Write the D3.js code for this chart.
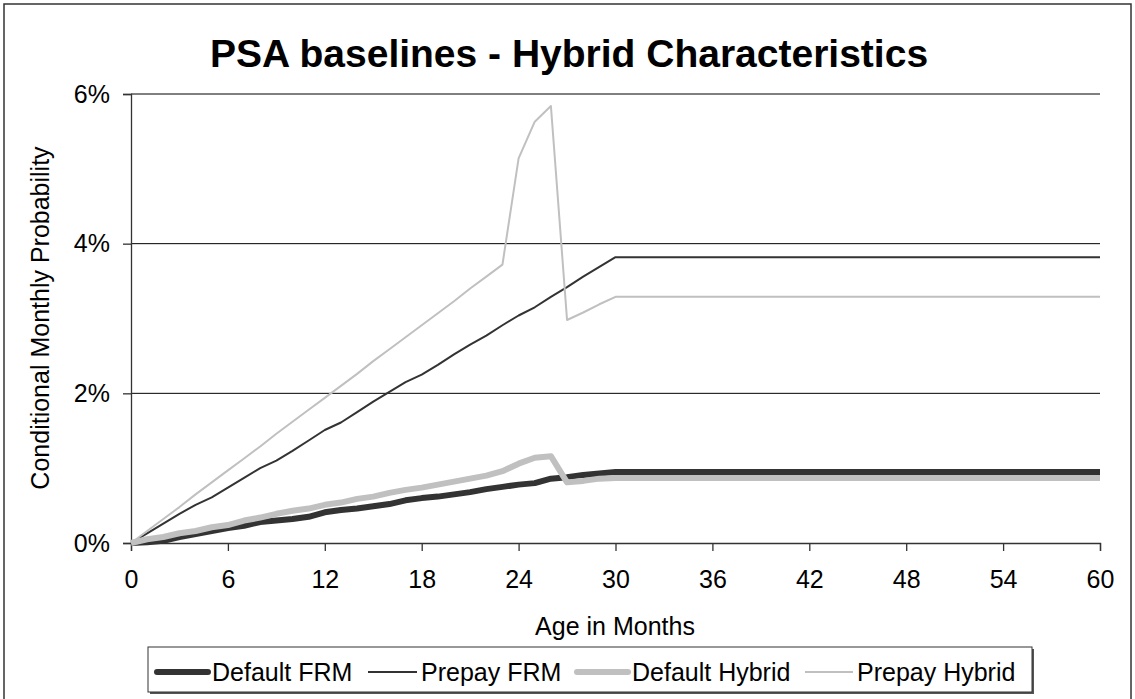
<!DOCTYPE html>
<html>
<head>
<meta charset="utf-8">
<script src="https://cdn.jsdelivr.net/npm/d3@7"></script>
<style>
  body { margin: 0; background: #fff; }
  text { font-family: "Liberation Sans", Arial, sans-serif; fill: #000; }
</style>
</head>
<body>
<div id="chart"></div>
<script>
// months 0..60
var months = [0,1,2,3,4,5,6,7,8,9,10,11,12,13,14,15,16,17,18,19,20,21,22,23,24,25,26,27,28,29,30,
  31,32,33,34,35,36,37,38,39,40,41,42,43,44,45,46,47,48,49,50,51,52,53,54,55,56,57,58,59,60]

// values in percent
var defaultFRM = [0,0.01,0.03,0.08,0.12,0.16,0.20,0.23,0.28,0.30,0.32,0.35,0.41,0.44,0.46,0.49,0.52,0.57,0.60,0.62,0.65,0.68,0.72,0.75,0.78,0.80,0.86,0.88,0.91,0.93,0.95,
  0.95,0.95,0.95,0.95,0.95,0.95,0.95,0.95,0.95,0.95,0.95,0.95,0.95,0.95,0.95,0.95,0.95,0.95,0.95,0.95,0.95,0.95,0.95,0.95,0.95,0.95,0.95,0.95,0.95,0.95]
var prepayFRM = [0,0.13,0.26,0.39,0.51,0.61,0.74,0.87,1.00,1.10,1.23,1.37,1.51,1.61,1.75,1.89,2.02,2.15,2.25,2.38,2.52,2.65,2.77,2.91,3.04,3.15,3.29,3.42,3.56,3.69,3.82,
  3.82,3.82,3.82,3.82,3.82,3.82,3.82,3.82,3.82,3.82,3.82,3.82,3.82,3.82,3.82,3.82,3.82,3.82,3.82,3.82,3.82,3.82,3.82,3.82,3.82,3.82,3.82,3.82,3.82,3.82]
var defaultHybrid = [0,0.05,0.08,0.13,0.16,0.21,0.24,0.30,0.34,0.39,0.43,0.46,0.51,0.54,0.59,0.62,0.67,0.71,0.74,0.78,0.82,0.86,0.90,0.96,1.06,1.14,1.16,0.81,0.83,0.86,0.87,
  0.87,0.87,0.87,0.87,0.87,0.87,0.87,0.87,0.87,0.87,0.87,0.87,0.87,0.87,0.87,0.87,0.87,0.87,0.87,0.87,0.87,0.87,0.87,0.87,0.87,0.87,0.87,0.87,0.87,0.87]
var prepayHybrid = [0,0.16,0.32,0.48,0.65,0.81,0.97,1.13,1.29,1.46,1.62,1.78,1.94,2.10,2.26,2.43,2.59,2.75,2.91,3.07,3.23,3.40,3.56,3.72,5.14,5.63,5.84,2.98,3.08,3.19,3.29,
  3.29,3.29,3.29,3.29,3.29,3.29,3.29,3.29,3.29,3.29,3.29,3.29,3.29,3.29,3.29,3.29,3.29,3.29,3.29,3.29,3.29,3.29,3.29,3.29,3.29,3.29,3.29,3.29,3.29,3.29]

var seriesNames = ["Default FRM", "Prepay FRM", "Default Hybrid", "Prepay Hybrid"]
var xTicks = [0,6,12,18,24,30,36,42,48,54,60]
var yTicks = [0,2,4,6]

var W = 1135, H = 699
var svg = d3.select("#chart").append("svg")
  .attr("width", W).attr("height", H)

// outer frame
svg.append("rect").attr("x", 4).attr("y", 4).attr("width", W - 8).attr("height", H)
  .attr("fill", "#fff").attr("stroke", "#333").attr("stroke-width", 1.5)

var x = d3.scaleLinear().domain([0, 60]).range([131, 1100])
var y = d3.scaleLinear().domain([0, 6]).range([543, 94])

// gridlines
svg.append("g").selectAll("line")
  .data(yTicks.filter(function(d){ return d > 0 }))
  .enter().append("line")
  .attr("x1", x(0)).attr("x2", x(60))
  .attr("y1", function(d){ return y(d) }).attr("y2", function(d){ return y(d) })
  .attr("stroke", "#000").attr("stroke-width", 1)

var yAxis = svg.append("g").attr("transform", "translate(" + x(0) + ",0)")
  .call(d3.axisLeft(y).tickValues(yTicks).tickFormat(function(d){ return d + "%" }).tickSize(8).tickPadding(13))
var xAxis = svg.append("g").attr("transform", "translate(0," + y(0) + ")")
  .call(d3.axisBottom(x).tickValues(xTicks).tickSize(8).tickPadding(19))

svg.selectAll(".domain").attr("stroke", "#333").attr("stroke-width", 1.3)
svg.selectAll(".tick line").attr("stroke", "#333").attr("stroke-width", 1.3)
svg.selectAll(".tick text").style("font-size", "25px").style("font-family", "'Liberation Sans', Arial, sans-serif").attr("fill", "#000")

var series = [
  {name: seriesNames[0], values: defaultFRM, color: "#333333", width: 6},
  {name: seriesNames[1], values: prepayFRM, color: "#333333", width: 2},
  {name: seriesNames[2], values: defaultHybrid, color: "#c0c0c0", width: 6},
  {name: seriesNames[3], values: prepayHybrid, color: "#c0c0c0", width: 2}
]

var line = d3.line()
  .x(function(d, i){ return x(months[i]) })
  .y(function(d){ return y(d) })

svg.append("g").selectAll("path")
  .data(series).enter().append("path")
  .attr("d", function(d){ return line(d.values) })
  .attr("fill", "none")
  .attr("stroke", function(d){ return d.color })
  .attr("stroke-width", function(d){ return d.width })
  .attr("stroke-linejoin", "round")

// title
svg.append("text").attr("x", 569).attr("y", 67)
  .attr("text-anchor", "middle").style("font-size", "39px").style("font-weight", "bold")
  .text("PSA baselines - Hybrid Characteristics")

// axis titles
svg.append("text").attr("x", 615).attr("y", 635)
  .attr("text-anchor", "middle").style("font-size", "25px")
  .text("Age in Months")
svg.append("text").attr("transform", "translate(49,318) rotate(-90)")
  .attr("text-anchor", "middle").style("font-size", "25px")
  .text("Conditional Monthly Probability")

// legend
var lg = svg.append("g")
lg.append("rect").attr("x", 150).attr("y", 649).attr("width", 884).attr("height", 45).attr("fill", "#555")
lg.append("rect").attr("x", 148).attr("y", 647).attr("width", 884).attr("height", 45)
  .attr("fill", "#fff").attr("stroke", "#333").attr("stroke-width", 1)
var legendX = [157, 368, 577, 805]
var legendLen = [51, 49, 51, 48]
series.forEach(function(s, i){
  lg.append("line").attr("x1", legendX[i]).attr("x2", legendX[i] + legendLen[i])
    .attr("y1", 672).attr("y2", 672)
    .attr("stroke", s.color).attr("stroke-width", s.width).attr("stroke-linecap", s.width > 3 ? "round" : "butt")
  lg.append("text").attr("x", legendX[i] + legendLen[i] + 4).attr("y", 681)
    .style("font-size", "25px").text(s.name)
})
</script>
</body>
</html>
